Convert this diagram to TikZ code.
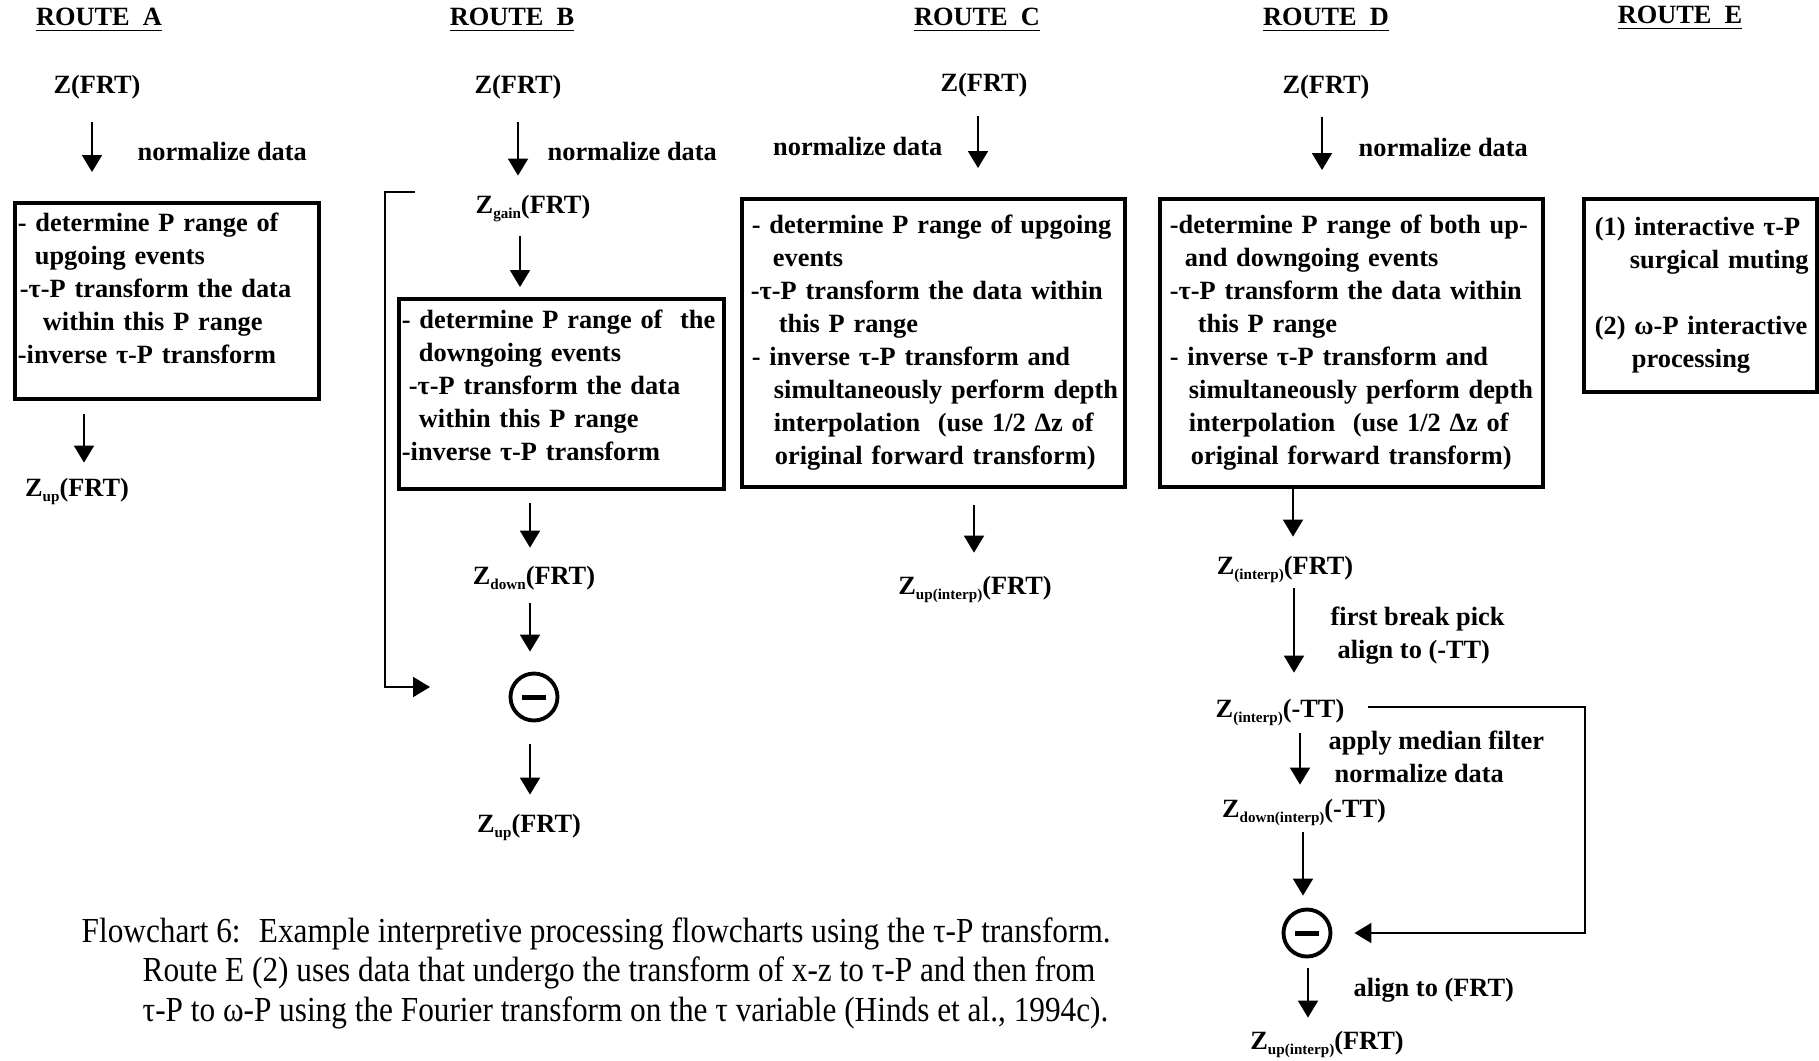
\documentclass[tikz,border=0pt]{standalone}
\usepackage{fontspec}
\setmainfont{Liberation Serif}
\newfontfamily\capfont[FakeStretch=0.89]{Liberation Serif}
\usetikzlibrary{arrows.meta}
\newcommand\Zs[1]{Z\raisebox{-0.45ex}{\fontsize{4.3}{5}\selectfont #1}}
\newcommand\boxln[2][0mm]{\mbox{\hspace*{#1}#2}}
\begin{document}
\begin{tikzpicture}[x=0.1mm,y=-0.1mm,
  every node/.style={font=\fontsize{7.5}{9.4}\selectfont\bfseries},
  lbl/.style={inner sep=0pt,text height=6pt,text depth=1.8pt},
  txt/.style={inner sep=0pt,anchor=west},
  ttl/.style={inner sep=0pt},
  bx/.style={draw,line width=1.1pt,anchor=north west,align=left,inner xsep=0.3mm,inner ysep=0pt},
  minus/.style={draw,circle,line width=1.1pt,minimum size=4.7mm,inner sep=0pt},
  arr/.style={-{Triangle[length=1.7mm,width=2mm]},line width=0.55pt},
  ]
\useasboundingbox (0,0) rectangle (1819,1060);
\node[ttl] (ta) at (99,20) {\underline{ROUTE~~A}};
\node[ttl] (tb) at (512,20) {\underline{ROUTE~~B}};
\node[ttl] (tc) at (977,20) {\underline{ROUTE~~C}};
\node[ttl] (td) at (1326,20) {\underline{ROUTE~~D}};
\node[ttl] (te) at (1680,18) {\underline{ROUTE~~E}};
% route A
\node[lbl] (za1) at (97,86) {Z(FRT)};
\node[txt] (na1) at (137,151) {normalize data};
\node[bx,text width=29.8mm,minimum height=19.6mm] (bxa) at (13,201) {\boxln{- determine P range of}\\
\boxln[1.7mm]{upgoing events}\\
\boxln[0.2mm]{-τ-P transform the data}\\
\boxln[2.5mm]{within this P range}\\
\boxln{-inverse τ-P transform}\\[-2pt]\mbox{}};
\node[lbl] (za2) at (77,489) {\Zs{up}(FRT)};
\draw[arr,shorten <=2.2mm,shorten >=2.9mm] ([xshift=-0.5mm]za1.south) -- ([xshift=-0.5mm]za1.south |- bxa.north);
\draw[arr,shorten <=1.3mm,shorten >=1.2mm] ([xshift=0.7mm]bxa.south -| za2.north) -- ([xshift=0.7mm]za2.north);
% route B
\node[lbl] (zb1) at (518,86) {Z(FRT)};
\node[txt] (nb1) at (547,151) {normalize data};
\node[lbl] (zb2) at (533,206) {\Zs{gain}(FRT)};
\node[bx,text width=31.9mm,minimum height=19mm] (bxb) at (397,297) {\boxln{- determine P range of~ the}\\
\boxln[1.7mm]{downgoing events}\\
\boxln[0.7mm]{-τ-P transform the data}\\
\boxln[1.7mm]{within this P range}\\
\boxln{-inverse τ-P transform}\\[-4.5pt]\mbox{}};
\node[lbl] (zb3) at (534,577) {\Zs{down}(FRT)};
\node[minus] (mb) at (534,697) {\rule{2.4mm}{0.5mm}};
\node[lbl] (zb4) at (529,825) {\Zs{up}(FRT)};
\coordinate (fbb) at (430,687);
\draw[arr,shorten <=2.2mm,shorten >=1.6mm] (zb1.south) -- (zb1.south |- zb2.north);
\draw[arr,shorten <=1.6mm,shorten >=1mm] ([xshift=-1.3mm]zb2.south) -- ([xshift=-1.3mm]zb2.south |- bxb.north);
\draw[arr,shorten <=1.2mm,shorten >=1.5mm] ([xshift=-0.4mm]bxb.south -| zb3.north) -- ([xshift=-0.4mm]zb3.north);
\draw[arr,shorten <=1.2mm,shorten >=2mm] ([xshift=-0.4mm]zb3.south) -- ([xshift=-0.4mm]zb3.south |- mb.north);
\draw[arr,shorten <=2.2mm,shorten >=1.6mm] ([xshift=-0.4mm]mb.south) -- ([xshift=-0.4mm]mb.south |- zb4.north);
\draw[arr] ([yshift=1.4mm]zb2.west) ++(-60,0) -- ++(-30,0) |- (fbb);
% route C
\node[lbl] (zc1) at (984,84) {Z(FRT)};
\node[txt,anchor=east] (nc1) at (943,146) {normalize data};
\node[bx,text width=37.7mm,minimum height=28.8mm] (bxc) at (740,197) {\leftskip=0.6mm\relax
\boxln[0.1mm]{- determine P range of\hspace{0.3em}upgoing}\\
\boxln[2.2mm]{events}\\
\boxln{-τ-P transform the data within}\\
\boxln[2.8mm]{this P range}\\
\boxln[0.1mm]{- inverse τ-P transform and}\\
\boxln[2.3mm]{simultaneously perform depth}\\
\boxln[2.3mm]{interpolation~ (use 1/2 Δz of}\\
\boxln[3mm]{original forward transform)}};
\node[lbl] (zc2) at (975,587) {\Zs{up(interp)}(FRT)};
\draw[arr,shorten <=1.8mm,shorten >=2.9mm] ([xshift=-0.6mm]zc1.south) -- ([xshift=-0.6mm]zc1.south |- bxc.north);
\draw[arr,shorten <=1.6mm,shorten >=2mm] ([xshift=-0.1mm]bxc.south -| zc2.north) -- ([xshift=-0.1mm]zc2.north);
% route D
\node[lbl] (zd1) at (1326,86) {Z(FRT)};
\node[txt] (nd1) at (1358,147) {normalize data};
\node[bx,text width=37.7mm,minimum height=28.8mm] (bxd) at (1158,197) {\leftskip=0.7mm\relax
\boxln{-determine P range of\hspace{0.3em}both up-}\\
\boxln[1.5mm]{and downgoing events}\\
\boxln{-τ-P transform the data within}\\
\boxln[2.8mm]{this P range}\\
\boxln{- inverse τ-P transform and}\\
\boxln[1.9mm]{simultaneously perform depth}\\
\boxln[1.9mm]{interpolation~ (use 1/2 Δz of}\\
\boxln[2.8mm]{original forward transform)}};
\node[lbl] (zd2) at (1285,567) {\Zs{(interp)}(FRT)};
\node[txt,align=left] (nd2) at (1330,636) {first break pick\\\hspace*{0.7mm}align to (-TT)};
\node[lbl] (zd3) at (1280,710) {\Zs{(interp)}(-TT)};
\node[txt,align=left] (nd3) at (1328,757) {apply median filter\\\hspace*{0.6mm}normalize data};
\node[lbl] (zd4) at (1304,810) {\Zs{down(interp)}(-TT)};
\node[minus] (md) at (1307,933) {\rule{2.4mm}{0.5mm}};
\node[txt] (nd5) at (1353,990) {align to (FRT)};
\node[lbl] (zd5) at (1327,1042) {\Zs{up(interp)}(FRT)};
\draw[arr,shorten <=1.7mm,shorten >=2.7mm] ([xshift=-0.4mm]zd1.south) -- ([xshift=-0.4mm]zd1.south |- bxd.north);
\draw[arr,shorten >=1.6mm] ([xshift=0.8mm]bxd.south -| zd2.north) -- ([xshift=0.8mm]zd2.north);
\draw[arr,shorten <=0.7mm,shorten >=2.3mm] ([xshift=0.9mm]zd2.south) -- ([xshift=0.9mm]zd2.south |- zd3.north);
\draw[arr,shorten <=0.9mm,shorten >=1.1mm] ([xshift=2mm]zd3.south) -- ([xshift=2mm]zd3.south |- zd4.north);
\draw[arr,shorten <=0.8mm,shorten >=1.2mm] ([xshift=-0.1mm]zd4.south) -- ([xshift=-0.1mm]zd4.south |- md.north);
\draw[arr,shorten <=1mm,shorten >=1mm] ([xshift=0.1mm]md.south) -- ([xshift=0.1mm]md.south |- zd5.north);
\draw[arr,shorten >=2.2mm] ([yshift=0.3mm]zd3.east) ++(23,0) -- ++(217,0) |- (md);
% route E
\node[bx,text width=22.7mm,minimum height=19.3mm] (bxe) at (1582,197) {\leftskip=0.8mm\relax
\boxln{(1) interactive τ-P}\\
\boxln[3.5mm]{surgical muting}\\[9.4pt]
\boxln{(2) ω-P interactive}\\
\boxln[4.5mm]{processing}};
% caption
\node[anchor=north west,align=left,inner sep=0pt,font=\capfont\fontsize{10}{11.2}\selectfont] (cap) at (81,917)
{Flowchart 6:~ Example interpretive processing flowcharts using the τ-P transform.\\
\hspace*{6.1mm}Route E (2) uses data that undergo the transform of x-z to τ-P and then from\\
\hspace*{6.1mm}τ-P to ω-P using the Fourier transform on the τ variable (Hinds et al., 1994c).};
\end{tikzpicture}
\end{document}
